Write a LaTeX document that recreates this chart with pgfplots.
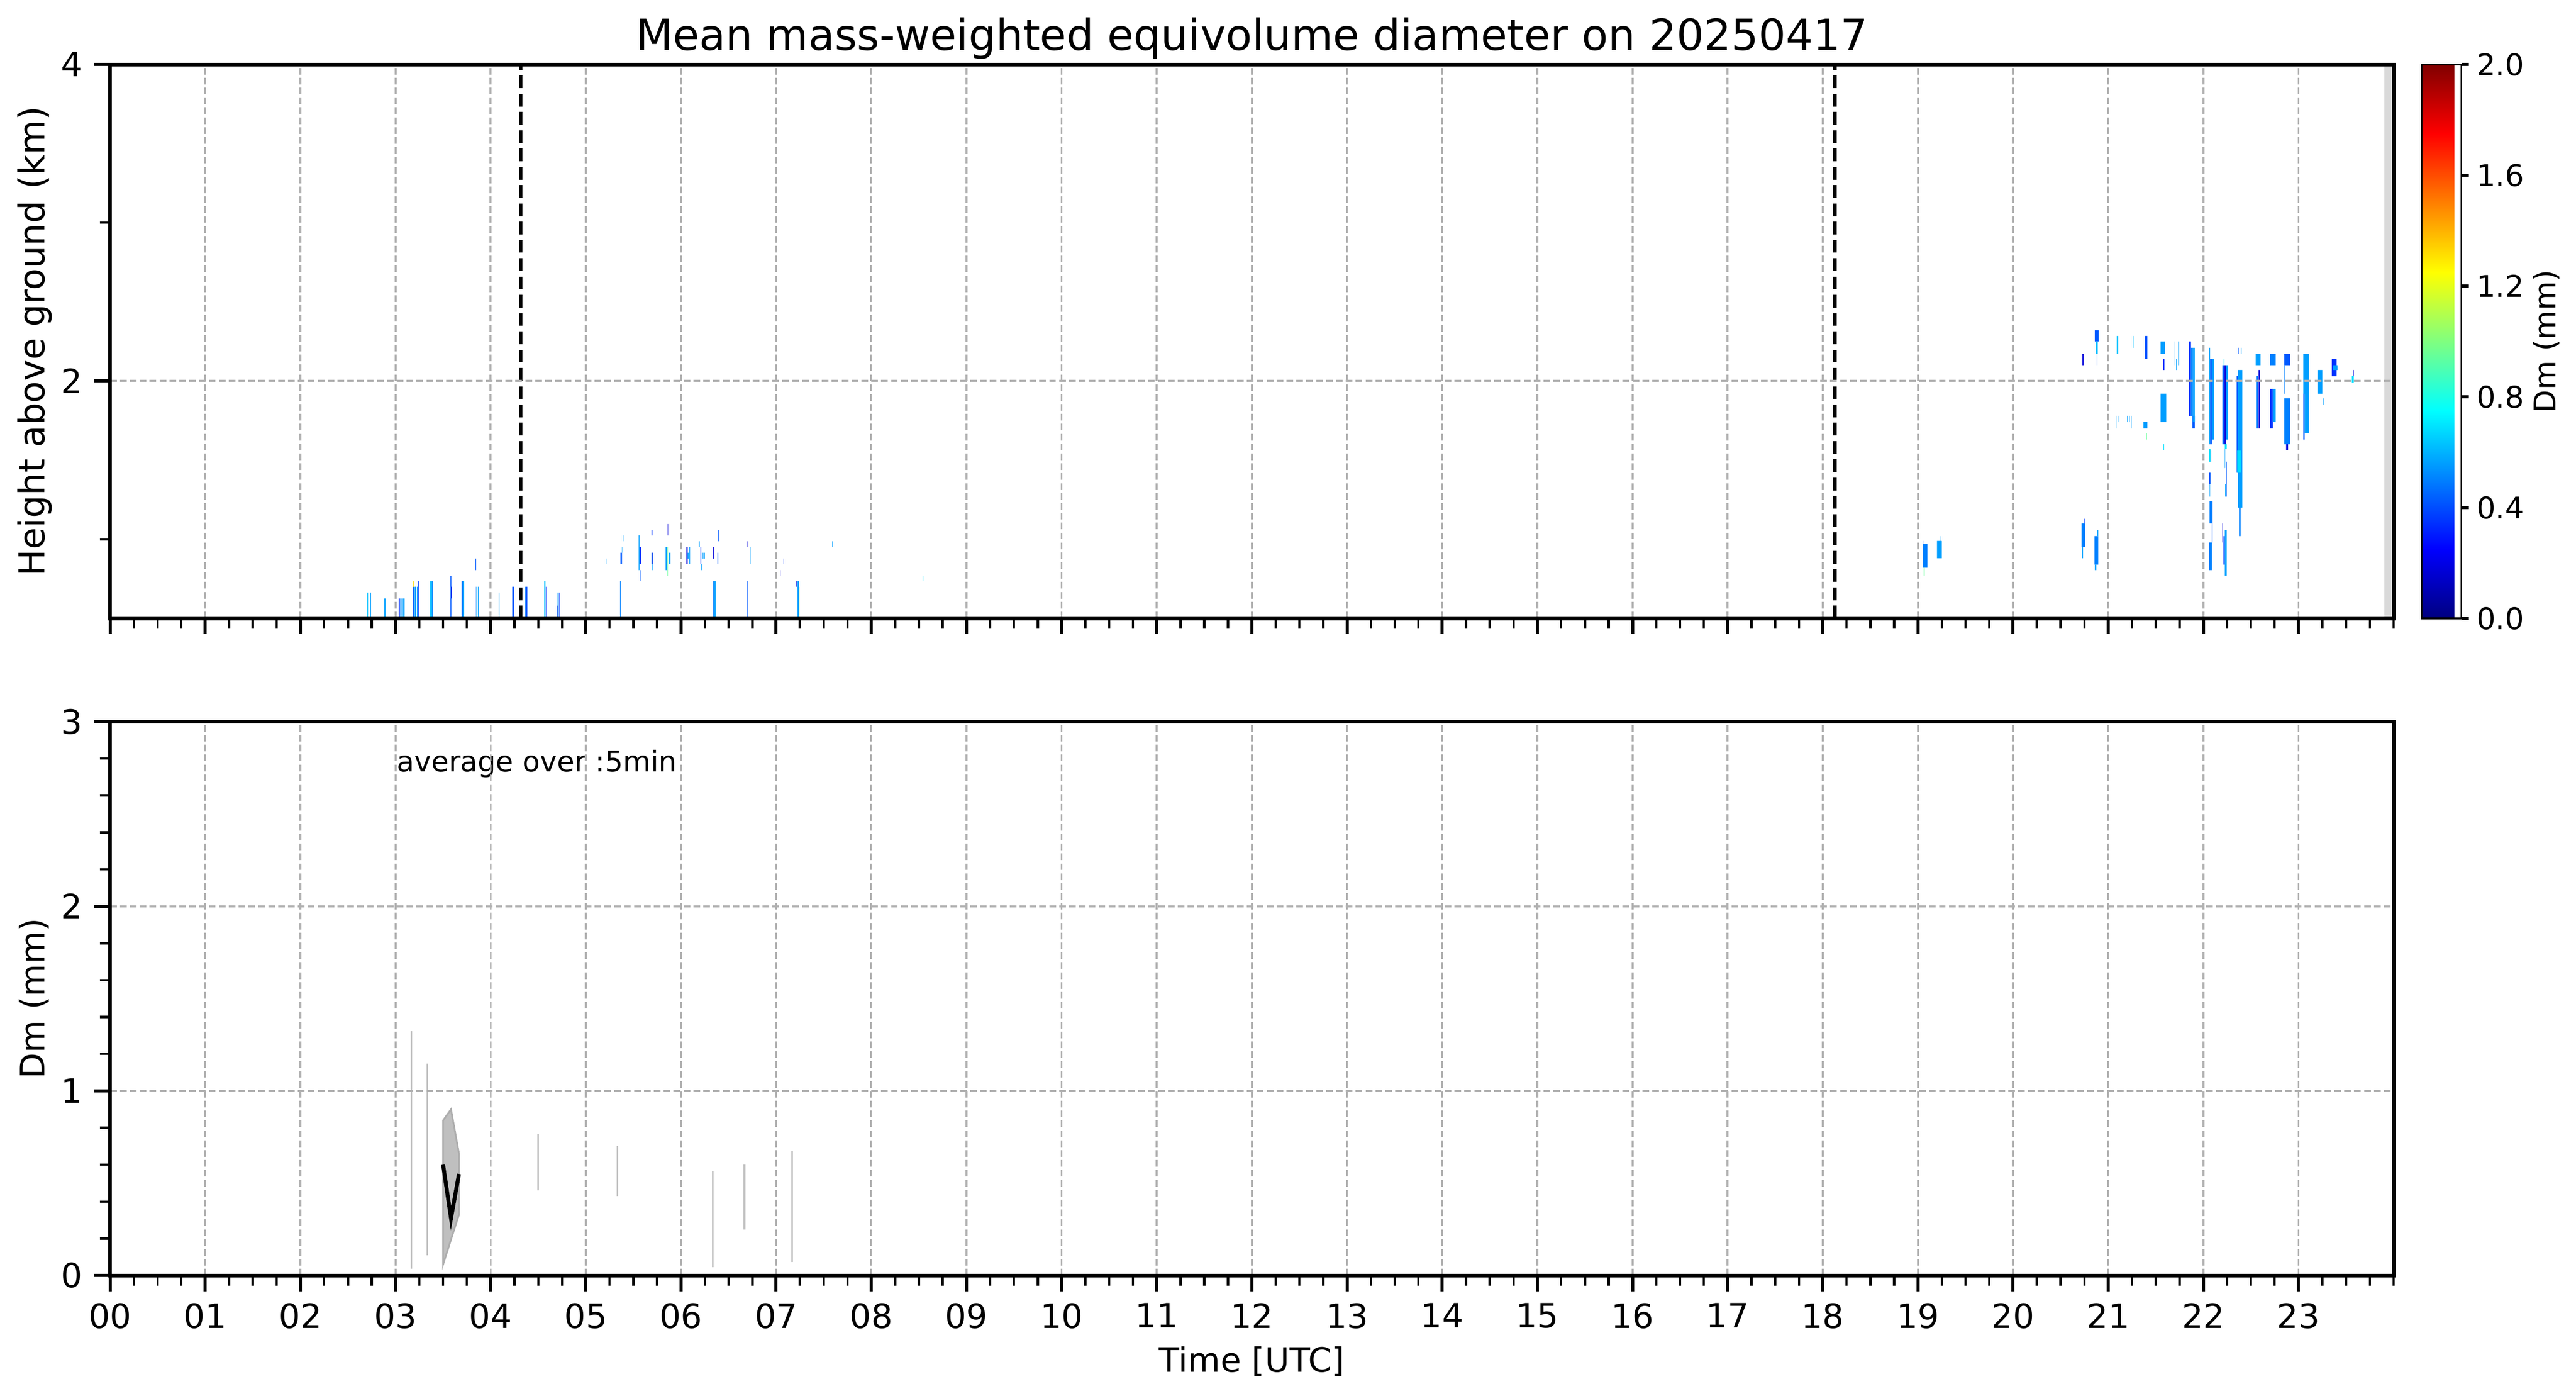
\documentclass[border=0pt]{standalone}
\usepackage{fontspec}
\setmainfont{DejaVu Sans}
\usepackage{pgfplots}
\pgfplotsset{compat=1.18}

\definecolor{gridgray}{HTML}{B0B0B0}
\definecolor{jD}{rgb}{0,0,0.85}
\definecolor{jB1}{rgb}{0,0.2,1}
\definecolor{jB2}{rgb}{0,0.35,1}
\definecolor{jB3}{rgb}{0,0.5,1}
\definecolor{jL}{rgb}{0,0.62,1}
\definecolor{jL2}{rgb}{0,0.75,1}
\definecolor{jC}{rgb}{0,0.88,1}
\definecolor{jG}{rgb}{0.4,1,0.6}
\definecolor{jY}{rgb}{1,0.85,0}

\pgfplotsset{
  colorbar shift/.style={},
  panel/.style={
    scale only axis, width=13.744in, height=3.333in,
    xmin=0, xmax=24,
    xtick={0,...,23},
    minor xtick={0,0.25,...,24},
    tick align=outside,
    xtick pos=left, ytick pos=left,
    major tick length=6.8pt, minor tick length=4.5pt,
    every major tick/.append style={line width=1.35pt, black},
    every minor tick/.append style={line width=1pt, black},
    axis line style={line width=1.6pt},
    xmajorgrids, ymajorgrids,
    major grid style={gridgray, line width=0.85pt, dash pattern=on 2.9pt off 1.4pt},
    tick label style={font=\fontsize{14.6}{17}\selectfont, inner sep=0pt},
    xticklabel shift=5pt, yticklabel shift=5pt,
    /pgf/number format/assume math mode=true,
    label style={font=\fontsize{14.6}{17}\selectfont, inner sep=0pt},
    ylabel style={at={(axis description cs:-0.0288,0.5)}, anchor=base},
    axis on top,
    unbounded coords=jump,
  },
}

\begin{document}
\begin{tikzpicture}
\useasboundingbox (0,0) rectangle (15.504in,8.398in);

% ---------------- top panel ----------------
\begin{axis}[panel,
  at={(0.6625in,4.677in)}, anchor=south west,
  ymin=0.5, ymax=4, ytick={0,2,4}, minor ytick={1,3},
  xticklabels={},
  ylabel={Height above ground (km)},
  ylabel style={font=\fontsize{15.5}{18}\selectfont},
  title={Mean mass-weighted equivolume diameter on 20250417},
  title style={font=\fontsize{18.7}{22}\selectfont, at={(axis description cs:0.5,1.0256)}, anchor=base, inner sep=0pt, yshift=-6pt},
  colorbar, colormap/jet, point meta min=0, point meta max=2,
  colorbar style={
    at={(parent axis.north east)}, anchor=north west, xshift=0.168in,
    scale only axis, width=0.2396in, height=3.333in,
    ytick={0,0.4,0.8,1.2,1.6,2.0},
    ytick pos=right, yticklabel pos=right,
    tick align=outside,
    major tick length=3.2pt,
    every major tick/.append style={line width=1.35pt, black},
    axis line style={line width=0.7pt},
    yticklabel shift=3.2pt,
    yticklabel style={/pgf/number format/.cd, fixed, fixed zerofill, precision=1, assume math mode=true, /tikz/.cd, font=\fontsize{13}{15}\selectfont, inner sep=0pt},
    ylabel={Dm (mm)},
    ylabel style={font=\fontsize{13}{15}\selectfont, inner sep=0pt, at={(axis description cs:3.374,0.5)}, anchor=base},
  },
]
% no-data band
\addplot[fill=black!15, draw=none] coordinates {(23.90,0.5)(24,0.5)(24,4)(23.90,4)} --cycle;

\addplot[fill=jD, draw=none] coordinates {
(3.585,0.626)(3.592,0.626)(3.592,0.70)(3.585,0.70)(nan,nan)
(20.73,2.10)(20.74,2.10)(20.74,2.17)(20.73,2.17)(nan,nan)
(22.22,1.60)(22.235,1.60)(22.235,2.10)(22.22,2.10)(nan,nan)
(22.58,1.70)(22.595,1.70)(22.595,2.07)(22.58,2.07)(nan,nan)
(22.87,1.565)(22.89,1.565)(22.89,1.63)(22.87,1.63)(nan,nan)
(23.575,2.03)(23.58,2.03)(23.58,2.07)(23.575,2.07)(nan,nan)
(6.339,0.878)(6.35,0.878)(6.35,0.952)(6.339,0.952)(nan,nan)
(6.69,0.952)(6.698,0.952)(6.698,0.987)(6.69,0.987)(nan,nan)
(7.04,0.768)(7.046,0.768)(7.046,0.805)(7.04,0.805)(nan,nan)
(4.698,0.5)(4.704,0.5)(4.704,0.58)(4.698,0.58)(nan,nan)
(6.058,0.842)(6.07,0.842)(6.07,0.952)(6.058,0.952)(nan,nan)
(7.214,0.70)(7.22,0.70)(7.22,0.735)(7.214,0.735)(nan,nan)
(22.20,0.98)(22.205,0.98)(22.205,1.10)(22.20,1.10)(nan,nan)
(22.075,1.49)(22.08,1.49)(22.08,1.56)(22.075,1.56)(nan,nan)
(5.70,0.842)(5.708,0.842)(5.708,0.915)(5.70,0.915)(nan,nan)
(5.86,1.024)(5.864,1.024)(5.864,1.096)(5.86,1.096)
};

\addplot[fill=jB1, draw=none] coordinates {
(21.85,1.78)(21.87,1.78)(21.87,2.25)(21.85,2.25)(nan,nan)
(21.58,2.07)(21.59,2.07)(21.59,2.14)(21.58,2.14)(nan,nan)
(23.35,2.03)(23.40,2.03)(23.40,2.14)(23.35,2.14)(nan,nan)
(22.70,1.70)(22.73,1.70)(22.73,1.95)(22.70,1.95)(nan,nan)
(22.21,0.84)(22.225,0.84)(22.225,1.02)(22.21,1.02)(nan,nan)
(3.034,0.5)(3.045,0.5)(3.045,0.626)(3.034,0.626)(nan,nan)
(3.24,0.5)(3.247,0.5)(3.247,0.735)(3.24,0.735)(nan,nan)
(4.376,0.5)(4.385,0.5)(4.385,0.70)(4.376,0.70)(nan,nan)
(4.58,0.5)(4.586,0.5)(4.586,0.70)(4.58,0.70)(nan,nan)
(4.72,0.5)(4.726,0.5)(4.726,0.663)(4.72,0.663)(nan,nan)
(5.565,0.842)(5.58,0.842)(5.58,0.952)(5.565,0.952)(nan,nan)
(5.69,1.024)(5.70,1.024)(5.70,1.059)(5.69,1.059)(nan,nan)
(19.05,0.97)(19.055,0.97)(19.055,0.99)(19.05,0.99)(nan,nan)
(20.745,1.10)(20.752,1.10)(20.752,1.13)(20.745,1.13)(nan,nan)
(6.205,0.842)(6.213,0.842)(6.213,0.952)(6.205,0.952)(nan,nan)
(7.078,0.842)(7.084,0.842)(7.084,0.878)(7.078,0.878)
};

\addplot[fill=jB2, draw=none] coordinates {
(3.577,0.5)(3.585,0.5)(3.585,0.768)(3.577,0.768)(nan,nan)
(21.885,1.70)(21.91,1.70)(21.91,1.78)(21.885,1.78)(nan,nan)
(22.07,1.60)(22.09,1.60)(22.09,2.14)(22.07,2.14)(nan,nan)
(22.20,1.60)(22.22,1.60)(22.22,2.10)(22.20,2.10)(nan,nan)
(22.35,1.42)(22.365,1.42)(22.365,2.03)(22.35,2.03)(nan,nan)
(22.85,2.10)(22.91,2.10)(22.91,2.17)(22.85,2.17)(nan,nan)
(23.05,1.63)(23.065,1.63)(23.065,1.92)(23.05,1.92)(nan,nan)
(22.06,1.35)(22.075,1.35)(22.075,1.42)(22.06,1.42)(nan,nan)
(22.365,2.17)(22.37,2.17)(22.37,2.21)(22.365,2.21)(nan,nan)
(20.86,2.25)(20.90,2.25)(20.90,2.32)(20.86,2.32)(nan,nan)
(20.88,2.10)(20.885,2.10)(20.885,2.17)(20.88,2.17)(nan,nan)
(21.385,2.14)(21.41,2.14)(21.41,2.285)(21.385,2.285)(nan,nan)
(4.227,0.5)(4.246,0.5)(4.246,0.70)(4.227,0.70)(nan,nan)
(3.185,0.5)(3.195,0.5)(3.195,0.70)(3.185,0.70)(nan,nan)
(3.694,0.5)(3.705,0.5)(3.705,0.735)(3.694,0.735)(nan,nan)
(3.835,0.5)(3.842,0.5)(3.842,0.70)(3.835,0.70)(nan,nan)
(5.365,0.842)(5.38,0.842)(5.38,0.915)(5.365,0.915)(nan,nan)
(5.57,0.735)(5.575,0.735)(5.575,0.805)(5.57,0.805)(nan,nan)
(6.383,0.842)(6.392,0.842)(6.392,0.915)(6.383,0.915)(nan,nan)
(6.698,0.5)(6.706,0.5)(6.706,0.735)(6.698,0.735)(nan,nan)
(22.238,1.27)(22.245,1.27)(22.245,1.49)(22.238,1.49)(nan,nan)
(22.09,0.98)(22.095,0.98)(22.095,1.24)(22.09,1.24)(nan,nan)
(3.839,0.805)(3.847,0.805)(3.847,0.878)(3.839,0.878)(nan,nan)
(6.392,0.987)(6.396,0.987)(6.396,1.06)(6.392,1.06)
};

\addplot[fill=jB3, draw=none] coordinates {
(21.87,1.78)(21.89,1.78)(21.89,2.21)(21.87,2.21)(nan,nan)
(22.555,1.70)(22.575,1.70)(22.575,2.03)(22.555,2.03)(nan,nan)
(22.85,1.60)(22.91,1.60)(22.91,1.89)(22.85,1.89)(nan,nan)
(22.85,1.92)(22.855,1.92)(22.855,2.10)(22.85,2.10)(nan,nan)
(22.065,1.10)(22.09,1.10)(22.09,1.24)(22.065,1.24)(nan,nan)
(22.06,0.805)(22.09,0.805)(22.09,0.98)(22.06,0.98)(nan,nan)
(19.05,0.82)(19.10,0.82)(19.10,0.97)(19.05,0.97)(nan,nan)
(20.72,0.95)(20.755,0.95)(20.755,1.10)(20.72,1.10)(nan,nan)
(20.855,0.84)(20.895,0.84)(20.895,1.02)(20.855,1.02)(nan,nan)
(22.375,1.02)(22.39,1.02)(22.39,1.20)(22.375,1.20)(nan,nan)
(22.70,2.10)(22.76,2.10)(22.76,2.17)(22.70,2.17)(nan,nan)
(3.05,0.5)(3.062,0.5)(3.062,0.626)(3.05,0.626)(nan,nan)
(4.362,0.5)(4.376,0.5)(4.376,0.70)(4.362,0.70)(nan,nan)
(5.36,0.5)(5.368,0.5)(5.368,0.735)(5.36,0.735)(nan,nan)
(6.339,0.5)(6.35,0.5)(6.35,0.735)(6.339,0.735)(nan,nan)
(3.383,0.5)(3.391,0.5)(3.391,0.735)(3.383,0.735)(nan,nan)
(5.69,0.842)(5.70,0.842)(5.70,0.915)(5.69,0.915)
};

\addplot[fill=jL, draw=none] coordinates {
(21.89,1.74)(21.91,1.74)(21.91,2.21)(21.89,2.21)(nan,nan)
(22.06,1.60)(22.07,1.60)(22.07,2.21)(22.06,2.21)(nan,nan)
(22.09,1.63)(22.11,1.63)(22.11,2.14)(22.09,2.14)(nan,nan)
(22.235,1.63)(22.26,1.63)(22.26,2.10)(22.235,2.10)(nan,nan)
(22.365,1.42)(22.41,1.42)(22.41,2.07)(22.365,2.07)(nan,nan)
(22.365,1.20)(22.41,1.20)(22.41,1.42)(22.365,1.42)(nan,nan)
(22.55,2.10)(22.60,2.10)(22.60,2.17)(22.55,2.17)(nan,nan)
(22.73,1.74)(22.76,1.74)(22.76,1.95)(22.73,1.95)(nan,nan)
(23.065,1.67)(23.11,1.67)(23.11,2.17)(23.065,2.17)(nan,nan)
(23.05,1.92)(23.065,1.92)(23.065,2.17)(23.05,2.17)(nan,nan)
(23.20,1.92)(23.25,1.92)(23.25,2.07)(23.20,2.07)(nan,nan)
(21.55,1.74)(21.61,1.74)(21.61,1.92)(21.55,1.92)(nan,nan)
(21.55,2.17)(21.595,2.17)(21.595,2.25)(21.55,2.25)(nan,nan)
(21.70,2.10)(21.705,2.10)(21.705,2.25)(21.70,2.25)(nan,nan)
(21.715,2.07)(21.72,2.07)(21.72,2.14)(21.715,2.14)(nan,nan)
(21.735,2.10)(21.745,2.10)(21.745,2.25)(21.735,2.25)(nan,nan)
(22.225,0.77)(22.245,0.77)(22.245,1.06)(22.225,1.06)(nan,nan)
(19.20,0.88)(19.25,0.88)(19.25,0.99)(19.20,0.99)(nan,nan)
(19.24,0.99)(19.245,0.99)(19.245,1.02)(19.24,1.02)(nan,nan)
(20.725,0.88)(20.735,0.88)(20.735,0.95)(20.725,0.95)(nan,nan)
(20.86,0.805)(20.875,0.805)(20.875,0.84)(20.86,0.84)(nan,nan)
(20.885,1.02)(20.895,1.02)(20.895,1.06)(20.885,1.06)(nan,nan)
(22.395,2.17)(22.40,2.17)(22.40,2.21)(22.395,2.21)(nan,nan)
(23.36,2.07)(23.41,2.07)(23.41,2.10)(23.36,2.10)(nan,nan)
(23.26,1.85)(23.265,1.85)(23.265,1.89)(23.26,1.89)(nan,nan)
(22.065,1.27)(22.07,1.27)(22.07,1.35)(22.065,1.35)(nan,nan)
(22.23,1.27)(22.24,1.27)(22.24,1.35)(22.23,1.35)(nan,nan)
(22.225,1.45)(22.23,1.45)(22.23,1.57)(22.225,1.57)(nan,nan)
(21.08,1.70)(21.085,1.70)(21.085,1.78)(21.08,1.78)(nan,nan)
(21.11,1.74)(21.115,1.74)(21.115,1.78)(21.11,1.78)(nan,nan)
(21.20,1.74)(21.205,1.74)(21.205,1.78)(21.20,1.78)(nan,nan)
(21.22,1.74)(21.225,1.74)(21.225,1.78)(21.22,1.78)(nan,nan)
(21.24,1.70)(21.245,1.70)(21.245,1.78)(21.24,1.78)(nan,nan)
(21.37,1.70)(21.41,1.70)(21.41,1.74)(21.37,1.74)(nan,nan)
(2.733,0.5)(2.742,0.5)(2.742,0.663)(2.733,0.663)(nan,nan)
(2.883,0.5)(2.895,0.5)(2.895,0.626)(2.883,0.626)(nan,nan)
(3.065,0.5)(3.075,0.5)(3.075,0.626)(3.065,0.626)(nan,nan)
(3.08,0.5)(3.095,0.5)(3.095,0.626)(3.08,0.626)(nan,nan)
(3.20,0.5)(3.215,0.5)(3.215,0.70)(3.20,0.70)(nan,nan)
(3.225,0.5)(3.235,0.5)(3.235,0.70)(3.225,0.70)(nan,nan)
(3.705,0.5)(3.721,0.5)(3.721,0.735)(3.705,0.735)(nan,nan)
(3.85,0.5)(3.858,0.5)(3.858,0.70)(3.85,0.70)(nan,nan)
(3.866,0.5)(3.874,0.5)(3.874,0.70)(3.866,0.70)(nan,nan)
(4.085,0.5)(4.092,0.5)(4.092,0.663)(4.085,0.663)(nan,nan)
(4.704,0.5)(4.715,0.5)(4.715,0.663)(4.704,0.663)(nan,nan)
(6.35,0.5)(6.365,0.5)(6.365,0.735)(6.35,0.735)(nan,nan)
(7.225,0.5)(7.24,0.5)(7.24,0.735)(7.225,0.735)(nan,nan)
(5.21,0.842)(5.216,0.842)(5.216,0.878)(5.21,0.878)(nan,nan)
(5.555,0.805)(5.565,0.805)(5.565,1.024)(5.555,1.024)(nan,nan)
(6.188,0.952)(6.197,0.952)(6.197,0.987)(6.188,0.987)(nan,nan)
(6.213,0.805)(6.217,0.805)(6.217,0.842)(6.213,0.842)(nan,nan)
(6.23,0.878)(6.236,0.878)(6.236,0.915)(6.23,0.915)(nan,nan)
(6.244,0.878)(6.25,0.878)(6.25,0.915)(6.244,0.915)(nan,nan)
(6.725,0.842)(6.73,0.842)(6.73,0.952)(6.725,0.952)(nan,nan)
(7.59,0.952)(7.596,0.952)(7.596,0.987)(7.59,0.987)(nan,nan)
(5.38,0.915)(5.384,0.915)(5.384,0.952)(5.38,0.952)(nan,nan)
(5.39,0.987)(5.394,0.987)(5.394,1.024)(5.39,1.024)(nan,nan)
(5.70,0.805)(5.71,0.805)(5.71,0.842)(5.70,0.842)(nan,nan)
(6.07,0.878)(6.08,0.878)(6.08,0.915)(6.07,0.915)(nan,nan)
(6.088,0.842)(6.096,0.842)(6.096,0.952)(6.088,0.952)(nan,nan)
(5.84,0.805)(5.85,0.805)(5.85,0.952)(5.84,0.952)(nan,nan)
(5.875,0.842)(5.89,0.842)(5.89,0.915)(5.875,0.915)
};

\addplot[fill=jL2, draw=none] coordinates {
(2.702,0.5)(2.711,0.5)(2.711,0.663)(2.702,0.663)(nan,nan)
(3.359,0.5)(3.37,0.5)(3.37,0.735)(3.359,0.735)(nan,nan)
(3.375,0.5)(3.383,0.5)(3.383,0.735)(3.375,0.735)(nan,nan)
(21.09,2.17)(21.105,2.17)(21.105,2.285)(21.09,2.285)(nan,nan)
(21.26,2.21)(21.264,2.21)(21.264,2.285)(21.26,2.285)(nan,nan)
(4.389,0.5)(4.393,0.5)(4.393,0.70)(4.389,0.70)(nan,nan)
(4.563,0.5)(4.575,0.5)(4.575,0.735)(4.563,0.735)(nan,nan)
(20.87,2.17)(20.89,2.17)(20.89,2.25)(20.87,2.25)
};

\addplot[fill=jC, draw=none] coordinates {
(22.355,1.42)(22.395,1.42)(22.395,1.56)(22.355,1.56)(nan,nan)
(22.06,1.49)(22.075,1.49)(22.075,1.57)(22.06,1.57)(nan,nan)
(22.225,1.57)(22.245,1.57)(22.245,1.60)(22.225,1.60)(nan,nan)
(21.58,1.565)(21.586,1.565)(21.586,1.60)(21.58,1.60)(nan,nan)
(23.56,1.99)(23.58,1.99)(23.58,2.03)(23.56,2.03)(nan,nan)
(8.54,0.735)(8.547,0.735)(8.547,0.768)(8.54,0.768)(nan,nan)
(22.215,2.10)(22.22,2.10)(22.22,2.14)(22.215,2.14)
};

\addplot[fill=jG, draw=none] coordinates {
(19.06,0.77)(19.07,0.77)(19.07,0.82)(19.06,0.82)(nan,nan)
(21.40,1.63)(21.405,1.63)(21.405,1.67)(21.40,1.67)(nan,nan)
(5.857,0.768)(5.862,0.768)(5.862,0.952)(5.857,0.952)(nan,nan)
(7.24,0.5)(7.245,0.5)(7.245,0.70)(7.24,0.70)
};

\addplot[fill=jY, draw=none] coordinates {(3.185,0.70)(3.19,0.70)(3.19,0.735)(3.185,0.735)};

% sunrise / sunset
\addplot[black, line width=1.5pt, dash pattern=on 5.55pt off 2.4pt] coordinates {(4.318,0.5)(4.318,4)};
\addplot[black, line width=1.5pt, dash pattern=on 5.55pt off 2.4pt] coordinates {(18.126,0.5)(18.126,4)};
\end{axis}

% ---------------- bottom panel ----------------
\begin{axis}[panel,
  at={(0.6625in,0.7229in)}, anchor=south west,
  ymin=0, ymax=3, ytick={0,1,2,3}, minor y tick num=4,
  xticklabels={00,01,02,03,04,05,06,07,08,09,10,11,12,13,14,15,16,17,18,19,20,21,22,23},
  xlabel={Time [UTC]},
  xlabel style={at={(axis description cs:0.5,-0.1738)}, anchor=base},
  ylabel={Dm (mm)},
]
\addplot[draw=black!25, line width=0.75pt] coordinates {
(3.167,0.036)(3.167,1.324)(nan,nan)
(3.333,0.11)(3.333,1.148)(nan,nan)
(4.5,0.46)(4.5,0.766)(nan,nan)
(5.333,0.43)(5.333,0.70)(nan,nan)
(6.333,0.044)(6.333,0.567)(nan,nan)
(6.667,0.25)(6.667,0.60)(nan,nan)
(7.167,0.073)(7.167,0.676)
};
\addplot[fill=black!25, draw=black!32, line width=0.75pt] coordinates {
(3.5,0.84)(3.583,0.90)(3.667,0.66)(3.667,0.33)(3.583,0.195)(3.5,0.06)} --cycle;
\addplot[black, line width=1.7pt] coordinates {(3.5,0.60)(3.583,0.31)(3.667,0.55)};
\node[anchor=base west, inner sep=0pt, font=\fontsize{12.4}{15}\selectfont] at (axis cs:3.01,2.73) {average over :5min};
\end{axis}
\end{tikzpicture}
\end{document}
